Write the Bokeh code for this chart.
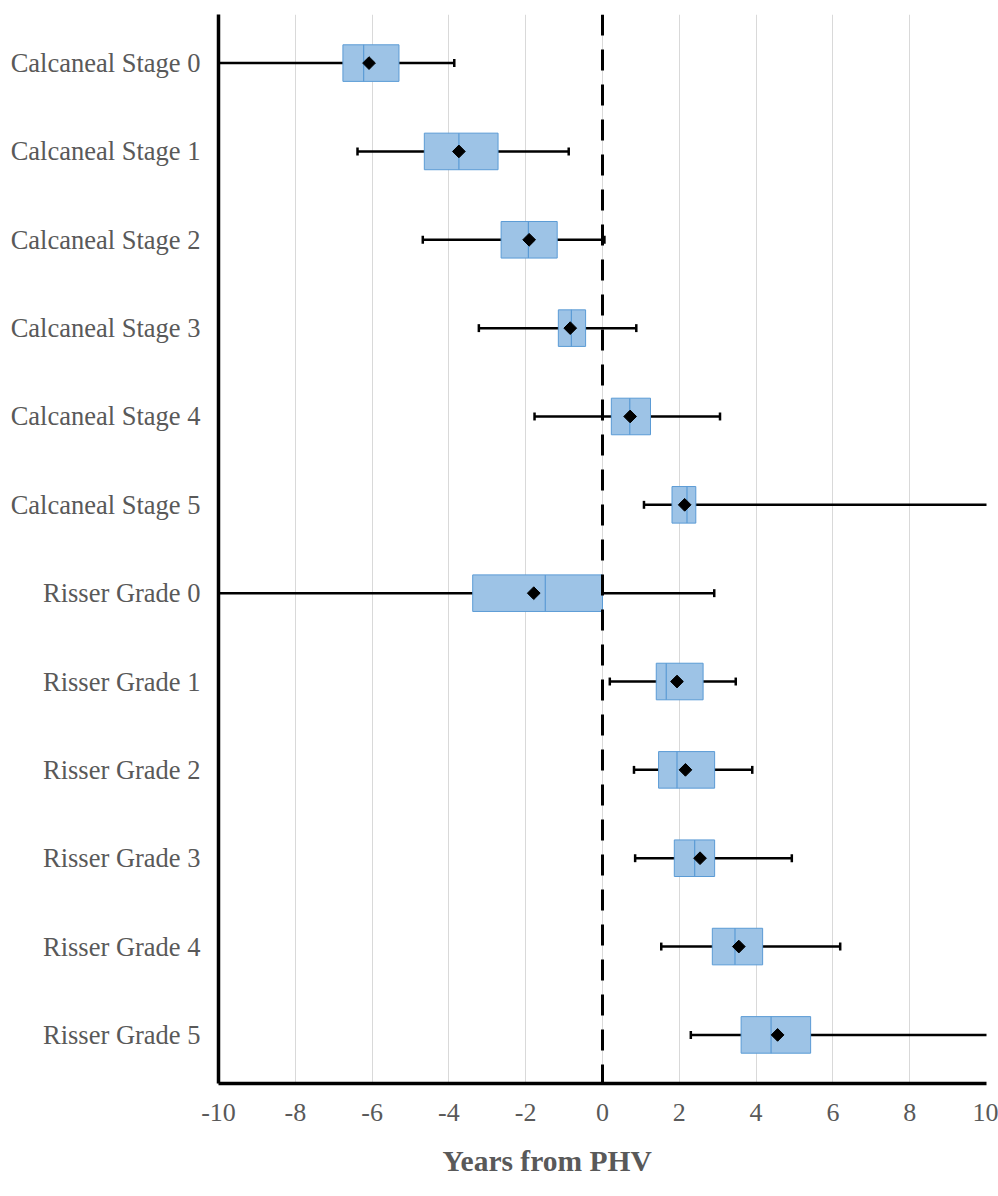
import math

from bokeh.plotting import figure
from bokeh.models import Range1d, FixedTicker, Span, Title
from bokeh.embed import file_html
from bokeh.resources import INLINE

# Skeletal maturity stages and their timing relative to peak height velocity (years)
stages = [
    "Calcaneal Stage 0", "Calcaneal Stage 1", "Calcaneal Stage 2",
    "Calcaneal Stage 3", "Calcaneal Stage 4", "Calcaneal Stage 5",
    "Risser Grade 0", "Risser Grade 1", "Risser Grade 2",
    "Risser Grade 3", "Risser Grade 4", "Risser Grade 5",
]
whisker_low = [-10.6, -6.38, -4.68, -3.22, -1.77, 1.08, -10.6, 0.19, 0.82, 0.85, 1.53, 2.30]
q1 = [-6.76, -4.64, -2.64, -1.15, 0.23, 1.81, -3.38, 1.40, 1.46, 1.87, 2.86, 3.61]
median = [-6.22, -3.74, -1.93, -0.81, 0.71, 2.20, -1.49, 1.66, 1.94, 2.40, 3.45, 4.39]
q3 = [-5.30, -2.72, -1.18, -0.44, 1.25, 2.43, 0.00, 2.62, 2.92, 2.92, 4.17, 5.42]
whisker_high = [-3.86, -0.88, 0.05, 0.88, 3.06, 10.6, 2.91, 3.47, 3.90, 4.93, 6.19, 10.6]
mean = [-6.08, -3.74, -1.91, -0.84, 0.72, 2.14, -1.79, 1.94, 2.16, 2.54, 3.55, 4.56]
x_ticks = [-10, -8, -6, -4, -2, 0, 2, 4, 6, 8, 10]
x_tick_labels = ["-10", "-8", "-6", "-4", "-2", "0", "2", "4", "6", "8", "10"]

rows = list(range(len(stages)))

FONT = "Liberation Serif"
TEXT_GREY = "#595959"
BOX_FILL = "#9DC3E6"
BOX_EDGE = "#5B9BD5"

p = figure(
    width=998, height=1196,
    x_range=Range1d(-10, 10),
    y_range=Range1d(11.55, -0.55),
    output_backend="svg", toolbar_location=None,
    min_border_left=218, min_border_right=12,
    min_border_top=14, min_border_bottom=113,
)
p.outline_line_color = None
p.background_fill_color = "white"
p.border_fill_color = "white"

# x axis
p.xaxis.ticker = FixedTicker(ticks=x_ticks)
p.xaxis.major_label_overrides = dict(zip(x_ticks, x_tick_labels))
p.xaxis.major_tick_line_color = None
p.xaxis.minor_tick_line_color = None
p.xaxis.axis_line_color = "black"
p.xaxis.axis_line_width = 3.5
p.xaxis.major_label_text_font = FONT
p.xaxis.major_label_text_font_size = "26px"
p.xaxis.major_label_text_color = TEXT_GREY
p.xaxis.major_label_standoff = 14

# y axis with stage names
p.yaxis.ticker = FixedTicker(ticks=rows)
p.yaxis.major_label_overrides = {i: s for i, s in enumerate(stages)}
p.yaxis.major_tick_line_color = None
p.yaxis.minor_tick_line_color = None
p.yaxis.axis_line_color = "black"
p.yaxis.axis_line_width = 3.5
p.yaxis.major_label_text_font = FONT
p.yaxis.major_label_text_font_size = "26.5px"
p.yaxis.major_label_text_color = TEXT_GREY
p.yaxis.major_label_standoff = 12

p.xgrid.ticker = FixedTicker(ticks=x_ticks)
p.xgrid.grid_line_color = "#D9D9D9"
p.xgrid.grid_line_width = 1
p.ygrid.grid_line_color = None

# whiskers and caps
p.segment(x0=whisker_low, y0=rows, x1=whisker_high, y1=rows,
          line_color="black", line_width=2.5)
cap_half = 0.045
p.segment(x0=whisker_low, y0=[r - cap_half for r in rows],
          x1=whisker_low, y1=[r + cap_half for r in rows],
          line_color="black", line_width=2.5)
p.segment(x0=whisker_high, y0=[r - cap_half for r in rows],
          x1=whisker_high, y1=[r + cap_half for r in rows],
          line_color="black", line_width=2.5)

# interquartile boxes with median line
box_h = 0.414
p.hbar(y=rows, left=q1, right=q3, height=box_h,
       fill_color=BOX_FILL, line_color=BOX_EDGE, line_width=1)
p.segment(x0=median, y0=[r - box_h / 2 for r in rows],
          x1=median, y1=[r + box_h / 2 for r in rows],
          line_color=BOX_EDGE, line_width=1.2)

# PHV reference line
p.add_layout(Span(location=0, dimension="height", line_color="black",
                  line_width=3, line_dash="21 14"))

# means
p.scatter(x=mean, y=rows, marker="square", angle=math.pi / 4, size=9,
          fill_color="black", line_color="black")

p.add_layout(Title(text="Years from PHV", text_font=FONT,
                   text_font_size="29.5px", text_font_style="bold",
                   text_color=TEXT_GREY, align="left", offset=224,
                   standoff=39), "below")

open("out.html", "w").write(file_html(p, INLINE))
